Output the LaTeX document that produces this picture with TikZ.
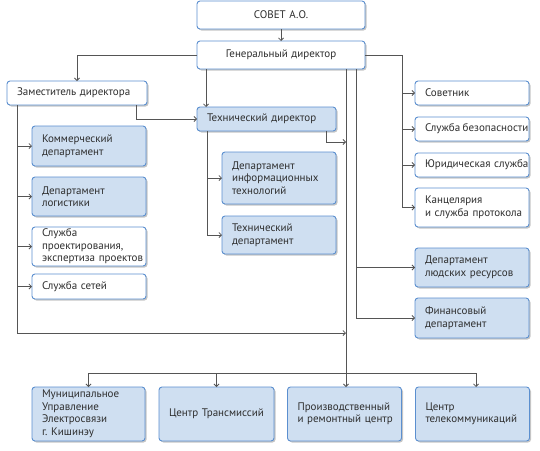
\documentclass[tikz,border=0pt]{standalone}
\usepackage{fontspec}
\setmainfont{PT Sans}
\usetikzlibrary{arrows.meta,shadows,calc}
\definecolor{bordc}{HTML}{5B8FCF}
\definecolor{boxfill}{HTML}{CFDFF1}
\definecolor{linec}{HTML}{555555}
\definecolor{txtc}{HTML}{2E2E2E}
\tikzset{
  box/.style={draw=bordc, line width=0.9pt, rounded corners=3pt, fill=white,
    inner xsep=10pt, inner ysep=0pt, outer sep=0pt, anchor=north west,
    align=left, text=txtc, font=\fontsize{11}{12.5}\selectfont,
    drop shadow={shadow xshift=1.5pt, shadow yshift=-1.5pt, fill=black!45, opacity=0.5}},
  bluebox/.style={box, fill=boxfill},
  conn/.style={draw=linec, line width=0.8pt},
  arr/.style={conn, -{Straight Barb[length=2.5pt,width=5pt]}},
}
\begin{document}
\begin{tikzpicture}[x=1pt,y=-1pt]
\useasboundingbox (0,0) rectangle (540,450);
% top
\node[box, align=center, minimum width=168pt, minimum height=28pt, text width=148pt] (sovet) at (197,1) {СОВЕТ А.О.};
\node[box, align=center, minimum width=168pt, minimum height=28pt, text width=148pt] (gen) at (197,41) {Генеральный директор};
\node[box, minimum width=140pt, minimum height=24pt, text width=120pt] (zam) at (7,81) {Заместитель~директора};
\node[bluebox, minimum width=139pt, minimum height=24pt, text width=119pt] (tech) at (197,107) {Технический~директор};
% left column
\node[bluebox, minimum width=114pt, minimum height=40pt, text width=94pt] (komm) at (32,126) {Коммерческий\\департамент};
\node[bluebox, minimum width=114pt, minimum height=39pt, text width=94pt] (log) at (32,177) {Департамент\\логистики};
\node[box, minimum width=114pt, minimum height=39pt, text width=94pt] (proj) at (32,227) {Служба\\проектирования,\\экспертиза~проектов};
\node[box, minimum width=114pt, minimum height=25pt, text width=94pt] (net) at (32,274) {Служба~сетей};
% tech column
\node[bluebox, minimum width=114pt, minimum height=52pt, text width=94pt] (it) at (222,152) {Департамент\\информационных\\технологий};
\node[bluebox, minimum width=114pt, minimum height=38pt, text width=94pt] (tdep) at (222,216) {Технический\\департамент};
% right column
\node[box, minimum width=114pt, minimum height=24pt, text width=94pt] (sov) at (415,81) {Советник};
\node[box, minimum width=114pt, minimum height=24pt, text width=94pt] (bez) at (415,117) {\mbox{Служба\hspace{2.5pt}безопасности}};
\node[box, minimum width=114pt, minimum height=24pt, text width=94pt] (yur) at (415,153) {Юридическая~служба};
\node[box, minimum width=114pt, minimum height=39pt, text width=94pt] (kanc) at (415,188) {Канцелярия\\и~служба~протокола};
\node[bluebox, minimum width=114pt, minimum height=39pt, text width=94pt] (hr) at (415,248) {Департамент\\людских~ресурсов};
\node[bluebox, minimum width=114pt, minimum height=40pt, text width=94pt] (fin) at (415,298) {Финансовый\\департамент};
% bottom row
\node[bluebox, minimum width=113pt, minimum height=54pt, text width=93pt] (b1) at (32,387) {Муниципальное\\Управление\\Электросвязи\\г.\ Кишинэу};
\node[bluebox, align=center, minimum width=115pt, minimum height=54pt, text width=95pt] (b2) at (159,387) {Центр~Трансмиссий};
\node[bluebox, align=center, minimum width=114pt, minimum height=54pt, text width=94pt] (b3) at (287.5,387) {\begin{tabular}{@{}l@{}}Производственный\\и ремонтный центр\end{tabular}};
\node[bluebox, minimum width=114pt, minimum height=54pt, text width=94pt] (b4) at (415.5,387) {Центр\\телекоммуникаций};
% coordinates
\coordinate (mA) at ([xshift=-19pt]gen.south east);
\coordinate (mB) at ([xshift=-9pt]gen.south east);
\coordinate (zl) at ([xshift=10pt]zam.south west);
\coordinate (tl) at ([xshift=10pt]tech.south west);
\coordinate (rx) at (402,0);
\coordinate (jz) at (346,333);
\coordinate (jt) at (346,142);
\coordinate (bus) at (0,373);
% connectors
\draw[arr] (sovet.south -| 281,0) -- (gen.north -| 281,0);
\draw[arr] (gen.west) -| (zam.north);
\draw[arr] ([xshift=9pt]gen.south west) -- ([xshift=9pt]tech.north west);
\draw[arr] ([xshift=-11pt]zam.south east) |- (tech.west);
% deputy branch
\draw[arr] (zl) |- (jz);
\foreach \n in {komm,log,proj,net} \draw[arr] (zl |- \n.west) -- (\n.west);
% technical director
\draw[arr] ([xshift=-10pt]tech.south east) |- (jt);
\draw[conn] (tl) -- (tl |- tdep.west);
\foreach \n in {it,tdep} \draw[arr] (tl |- \n.west) -- (\n.west);
% general right
\draw[conn] (gen.east) -| (rx |- kanc.west);
\foreach \n in {sov,bez,yur,kanc} \draw[arr] (rx |- \n.west) -- (\n.west);
% second line
\draw[conn] (mB) -- (mB |- fin.west);
\foreach \n in {hr,fin} \draw[arr] (mB |- \n.west) -- (\n.west);
% main line
\draw[arr] (mA) -- (mA |- b3.north);
\draw[conn] (bus -| b1.north) -- (bus -| 476,0);
\draw[arr] (bus -| b1.north) -- (b1.north);
\draw[arr] (bus -| b2.north) -- (b2.north);
\draw[arr] (bus -| 476,0) -- (476,387);
\end{tikzpicture}
\end{document}
